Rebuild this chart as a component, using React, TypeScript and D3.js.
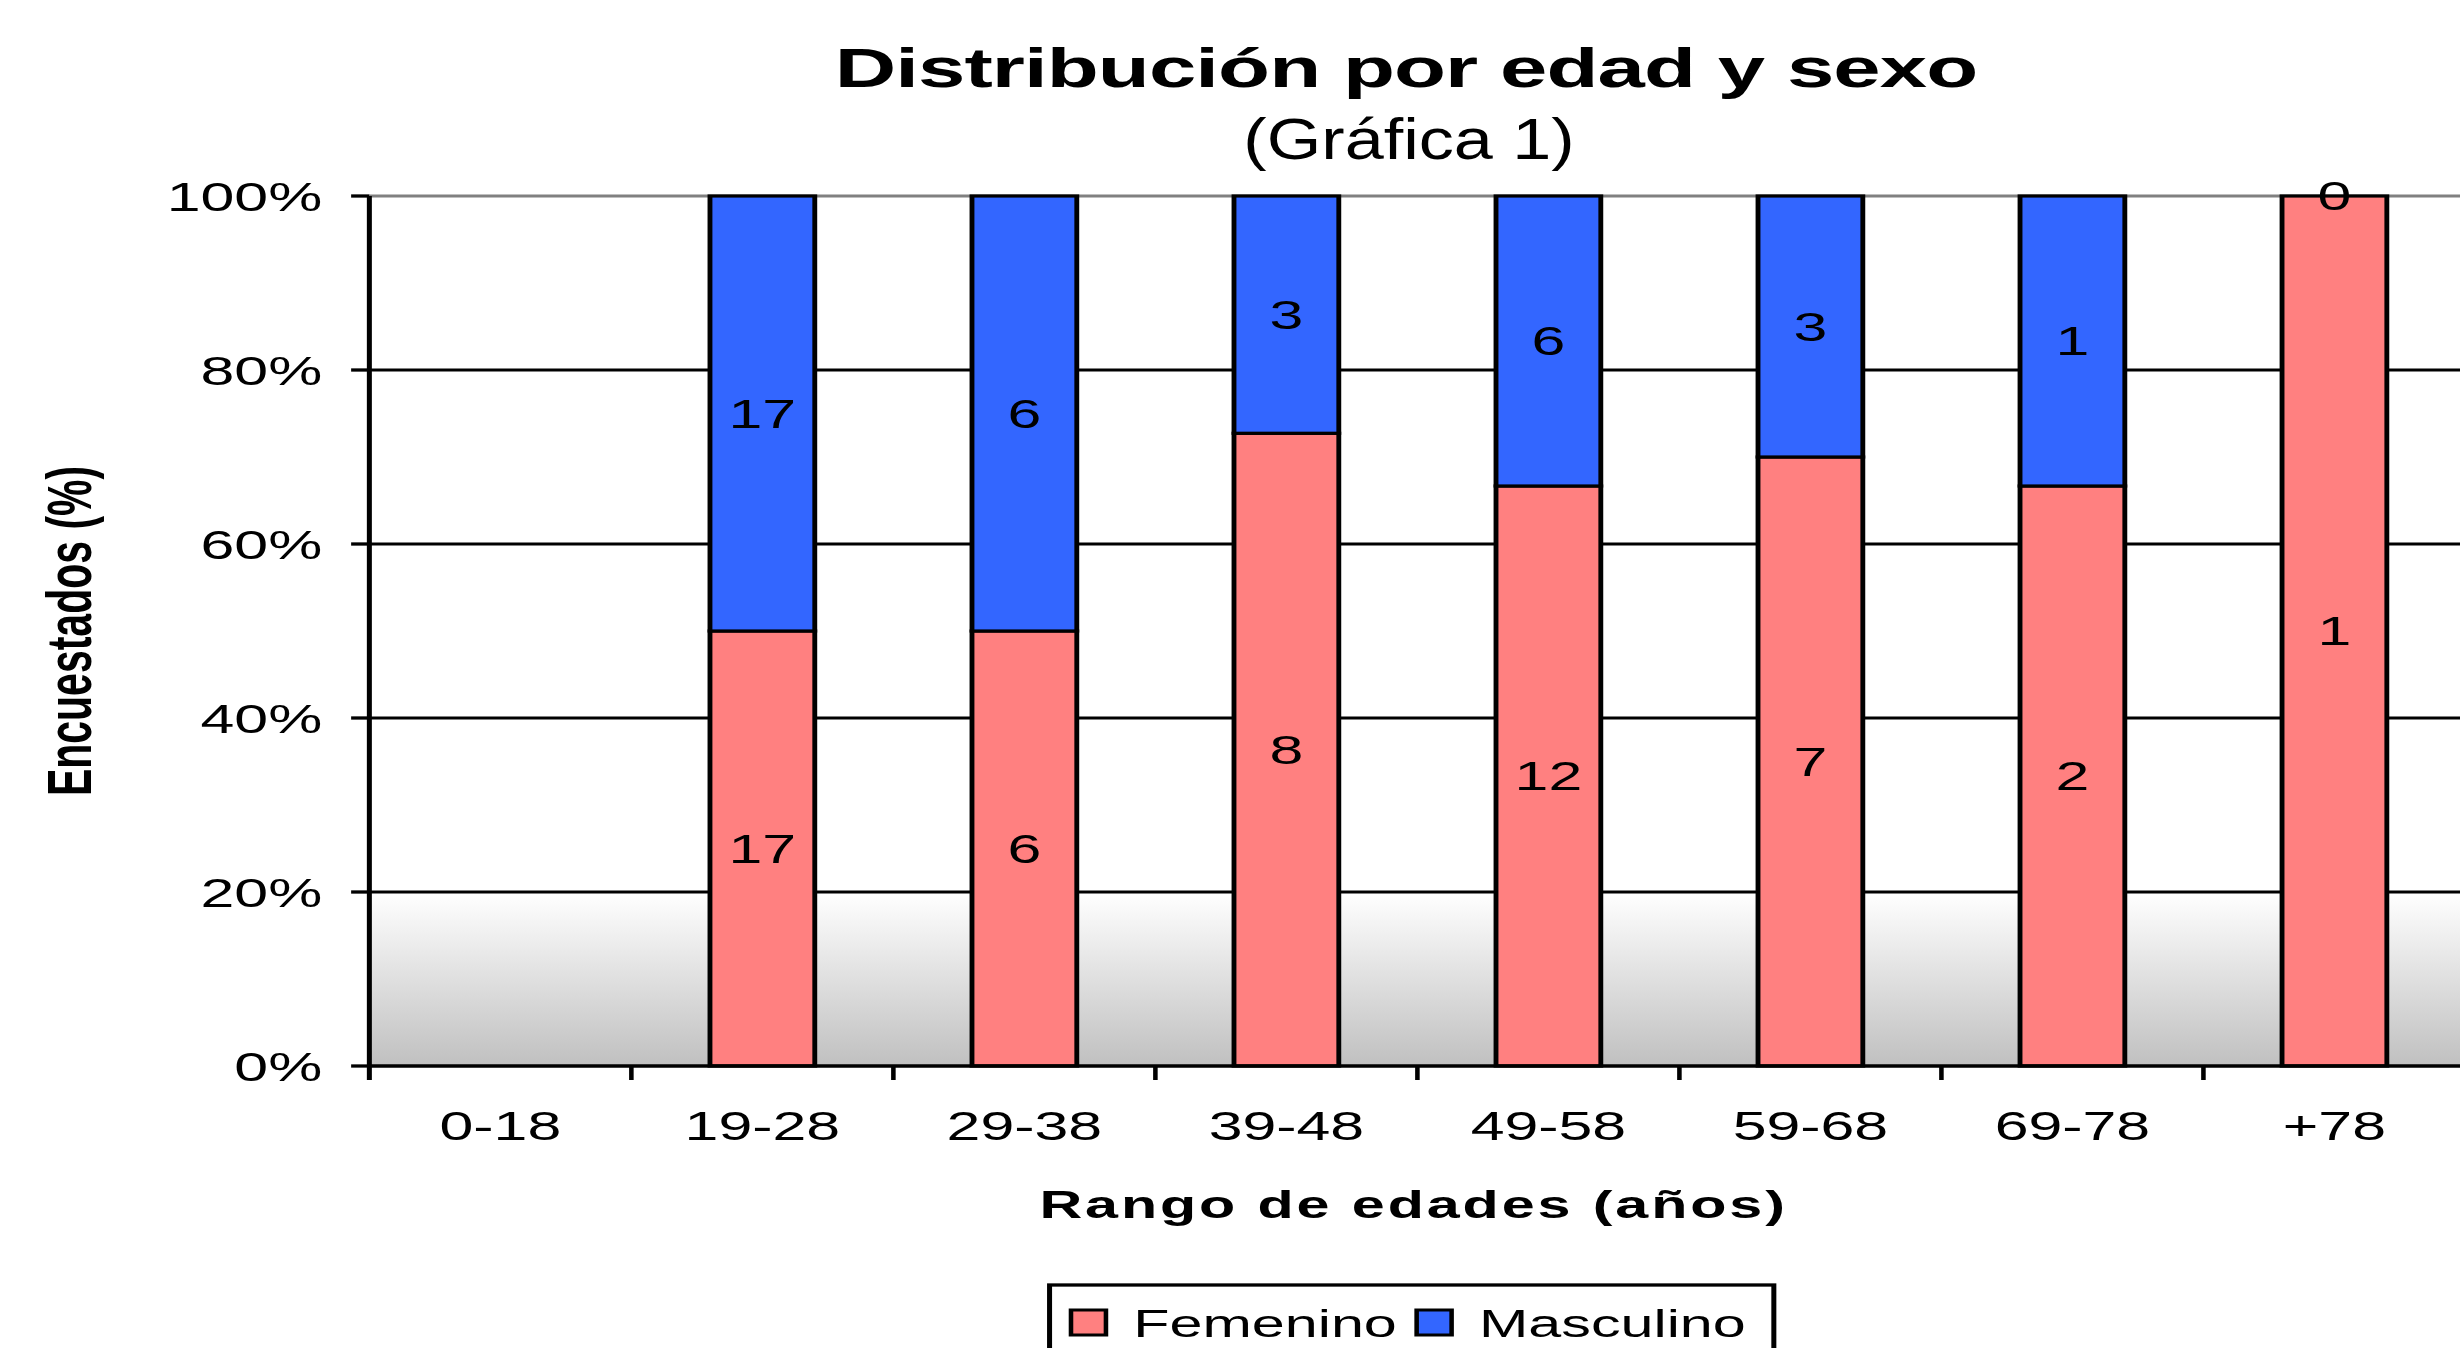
import { scaleBand, scaleLinear, stack, stackOffsetExpand } from "d3";

// the source picture is stretched sideways, so everything is drawn in a
// narrower local frame and scaled horizontally
const SX = 1.52;
const WIDTH = 2460;
const HEIGHT = 1348;
const FONT = "'Liberation Sans', Arial, sans-serif";

const categories = ["0-18", "19-28", "29-38", "39-48", "49-58", "59-68", "69-78", "+78"];
const femenino = [0, 17, 6, 8, 12, 7, 2, 1];
const masculino = [0, 17, 6, 3, 6, 3, 1, 0];
const seriesNames = ["Femenino", "Masculino"];
const seriesColors = ["#ff8080", "#3366ff"];
const yTickValues = [0, 0.2, 0.4, 0.6, 0.8, 1];

const PLOT = { left: 243, top: 196, width: 1379, bottom: 1066 };
const CENTER = 927;

type Row = { cat: string; Femenino: number; Masculino: number };

export default function App() {
  const rows: Row[] = categories.map((c, i) => ({
    cat: c,
    Femenino: femenino[i],
    Masculino: masculino[i],
  }));
  const totals = rows.map((r) => r.Femenino + r.Masculino);

  const series = stack<Row>()
    .keys(seriesNames)
    .offset(stackOffsetExpand)(rows);

  const x = scaleBand<string>()
    .domain(categories)
    .range([PLOT.left, PLOT.left + PLOT.width]);
  const y = scaleLinear().domain([0, 1]).range([PLOT.bottom, PLOT.top]);

  const bw = x.bandwidth() * 0.4;
  const boundaries = categories.map((c) => x(c) as number);

  return (
    <svg
      width={WIDTH}
      height={HEIGHT}
      style={{ position: "absolute", left: 0, top: 0, background: "#fff" }}
      fontFamily={FONT}
    >
      <defs>
        <linearGradient id="floor" x1="0" y1="0" x2="0" y2="1">
          <stop offset="0%" stopColor="#ffffff" />
          <stop offset="100%" stopColor="#c0c0c0" />
        </linearGradient>
      </defs>
      <g transform={`scale(${SX},1)`}>
        {/* plot background */}
        <rect
          x={PLOT.left}
          y={y(0.2)}
          width={PLOT.width}
          height={y(0) - y(0.2)}
          fill="url(#floor)"
        />

        {/* gridlines */}
        {yTickValues
          .filter((t) => t > 0)
          .map((t) => (
            <line
              key={t}
              x1={PLOT.left}
              x2={PLOT.left + PLOT.width}
              y1={y(t)}
              y2={y(t)}
              stroke={t === 1 ? "#808080" : "#000"}
              strokeWidth={3}
            />
          ))}

        {/* bars */}
        {series.map((s, si) =>
          s.map((d, i) => {
            if (!totals[i]) return null;
            const h = y(d[0]) - y(d[1]);
            if (h <= 0) return null;
            return (
              <rect
                key={`${si}-${i}`}
                x={(x(categories[i]) as number) + (x.bandwidth() - bw) / 2}
                y={y(d[1])}
                width={bw}
                height={h}
                fill={seriesColors[si]}
                stroke="#000"
                strokeWidth={3.2}
              />
            );
          })
        )}

        {/* data labels */}
        {series.map((s, si) =>
          s.map((d, i) => {
            if (!totals[i]) return null;
            const val = si === 0 ? femenino[i] : masculino[i];
            return (
              <text
                key={`l${si}-${i}`}
                x={(x(categories[i]) as number) + x.bandwidth() / 2}
                y={y((d[0] + d[1]) / 2) + 14.5}
                textAnchor="middle"
                fontSize={40}
              >
                {val}
              </text>
            );
          })
        )}

        {/* axes */}
        <line x1={PLOT.left} x2={PLOT.left} y1={PLOT.top} y2={PLOT.bottom + 14} stroke="#000" strokeWidth={3.3} />
        <line x1={PLOT.left} x2={PLOT.left + PLOT.width} y1={PLOT.bottom} y2={PLOT.bottom} stroke="#000" strokeWidth={3.6} />
        {boundaries.slice(1).map((bx, i) => (
          <line key={i} x1={bx} x2={bx} y1={PLOT.bottom} y2={PLOT.bottom + 14} stroke="#000" strokeWidth={3} />
        ))}
        {yTickValues.map((t) => (
          <g key={t}>
            <line x1={PLOT.left - 12} x2={PLOT.left} y1={y(t)} y2={y(t)} stroke="#000" strokeWidth={3.3} />
            <text x={212} y={y(t) + 15} textAnchor="end" fontSize={40}>
              {`${Math.round(t * 100)}%`}
            </text>
          </g>
        ))}
        {categories.map((c) => (
          <text
            key={c}
            x={(x(c) as number) + x.bandwidth() / 2}
            y={1140}
            textAnchor="middle"
            fontSize={40}
          >
            {c}
          </text>
        ))}

        {/* titles */}
        <text x={CENTER - 2} y={87} textAnchor="middle" fontSize={56} fontWeight="bold" letterSpacing={-0.6}>
          Distribución por edad y sexo
        </text>
        <text
          transform={`translate(${CENTER},159) scale(0.81,1)`}
          textAnchor="middle"
          fontSize={57}
        >
          (Gráfica 1)
        </text>
        <text x={CENTER + 3} y={1218} textAnchor="middle" fontSize={39} fontWeight="bold" letterSpacing={1.9}>
          Rango de edades (años)
        </text>
        <text
          transform={`translate(60,${(PLOT.top + PLOT.bottom) / 2}) rotate(-90)`}
          textAnchor="middle"
          fontSize={41}
          fontWeight="bold"
        >
          Encuestados (%)
        </text>

        {/* legend */}
        <rect x={690.5} y={1285} width={476.5} height={100} fill="#fff" stroke="#000" strokeWidth={3.3} />
        {seriesNames.map((n, i) => (
          <g key={n} transform={`translate(${704.6 + i * 227.4},1310)`}>
            <rect x={0} y={0} width={23} height={25} fill={seriesColors[i]} stroke="#000" strokeWidth={3} />
            <text x={41} y={27} fontSize={39}>
              {n}
            </text>
          </g>
        ))}
      </g>
    </svg>
  );
}
